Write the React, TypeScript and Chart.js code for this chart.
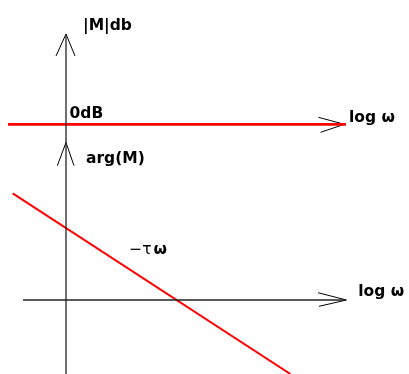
import { useEffect, useRef } from "react";
import { Chart, registerables } from "chart.js";

Chart.register(...registerables);

// Diagram units: log ω along x (origin at the vertical axis), value along y (origin at phase axis)
const magnitudeLogW = [-2.9, 14.0];
const magnitudeDb = [8.78, 8.78];

const phaseLogW = [-2.665, 11.22];
const phaseArg = [5.335, -3.7];

const vAxisX = [0, 0];
const vAxisY = [-3.7, 13.3];
const hAxisX = [-2.15, 14.0];
const hAxisY = [0, 0];

const arrowTopX = [-0.5, 0, 0.45];
const arrowTopY = [12.2, 13.3, 12.2];
const arrowMidX = [-0.435, 0, 0.4];
const arrowMidY = [6.715, 7.875, 6.715];
const arrowMagX = [12.62, 13.92, 12.73];
const arrowMagY = [9.135, 8.785, 8.385];
const arrowPhaseX = [12.6, 14.02, 12.65];
const arrowPhaseY = [0.365, 0, -0.315];

const labelTexts = ["|M|db", "0dB", "log ω", "arg(M)", "log ω", "−τ", "ω"];
const labelX = [0.85, 0.175, 14.15, 1.0, 14.615, 3.165, 4.375];
const labelY = [13.5, 9.115, 8.915, 6.85, 0.2, 2.285, 2.285];
const labelBold = [true, true, true, true, true, false, true];

const pts = (xs: number[], ys: number[]) => xs.map((x, i) => ({ x, y: ys[i] }));

const labelPlugin = {
  id: "labels",
  afterDatasetsDraw(chart: any) {
    const { ctx, scales } = chart;
    ctx.save();
    ctx.fillStyle = "#000";
    ctx.textBaseline = "alphabetic";
    ctx.textAlign = "left";
    labelTexts.forEach((t, i) => {
      ctx.font = (labelBold[i] ? "bold " : "") + "15.5px 'DejaVu Sans'";
      ctx.fillText(t, scales.x.getPixelForValue(labelX[i]), scales.y.getPixelForValue(labelY[i]));
    });
    ctx.restore();
  },
};

export default function App() {
  const ref = useRef<HTMLCanvasElement>(null);
  useEffect(() => {
    document.body.style.margin = "0";
    const axisStyle = { borderColor: "#222", borderWidth: 1.3, pointRadius: 0, showLine: true, fill: false };
    const arrowStyle = { borderColor: "#000", borderWidth: 1, pointRadius: 0, showLine: true, fill: false };
    const chart = new Chart(ref.current!, {
      type: "scatter",
      data: {
        datasets: [
          { label: "vaxis", data: pts(vAxisX, vAxisY), ...axisStyle },
          { label: "haxis", data: pts(hAxisX, hAxisY), ...axisStyle },
          { label: "a1", data: pts(arrowTopX, arrowTopY), ...arrowStyle },
          { label: "a2", data: pts(arrowMidX, arrowMidY), ...arrowStyle },
          { label: "a4", data: pts(arrowPhaseX, arrowPhaseY), ...arrowStyle },
          { label: "|M|", data: pts(magnitudeLogW, magnitudeDb), borderColor: "#ff0000", borderWidth: 2.6, pointRadius: 0, showLine: true },
          { label: "a3", data: pts(arrowMagX, arrowMagY), ...arrowStyle },
          { label: "arg", data: pts(phaseLogW, phaseArg), borderColor: "#ff0000", borderWidth: 2, pointRadius: 0, showLine: true },
        ],
      },
      options: {
        animation: false,
        responsive: false,
        maintainAspectRatio: false,
        layout: { padding: 0 },
        plugins: { legend: { display: false }, tooltip: { enabled: false } },
        scales: {
          x: { type: "linear", min: -3.3, max: 17.15, display: false },
          y: { type: "linear", min: -3.7, max: 15, display: false },
        },
      },
      plugins: [labelPlugin],
    });
    return () => chart.destroy();
  }, []);
  return <canvas ref={ref} width={409} height={374} style={{ display: "block" }} />;
}
